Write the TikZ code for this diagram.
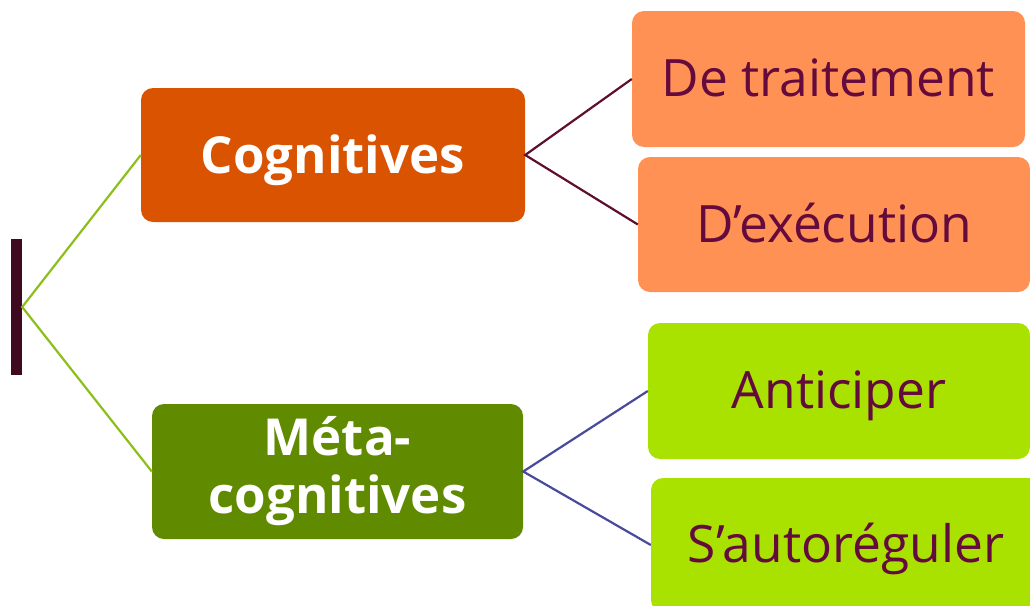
\documentclass[tikz,border=0pt]{standalone}
\usepackage{fontspec}
\setmainfont{Open Sans}
\definecolor{barc}{HTML}{3F0A20}
\definecolor{cogc}{HTML}{DA5300}
\definecolor{metac}{HTML}{608A00}
\definecolor{lorange}{HTML}{FF9155}
\definecolor{lgreen}{HTML}{A9E200}
\definecolor{txtc}{HTML}{650A3C}
\definecolor{lineg}{HTML}{8DBF1B}
\definecolor{linem}{HTML}{5E0E2E}
\definecolor{lineb}{HTML}{4A4A9C}
\tikzset{
  mainbox/.style={rectangle, rounded corners=12pt, inner sep=0pt, text=white, font=\fontsize{51}{58}\selectfont\bfseries, align=center},
  subbox/.style={rectangle, rounded corners=12pt, inner sep=0pt, text=txtc, font=\fontsize{51.5}{60}\selectfont, text height=40pt, text depth=5pt},
  conn/.style={line width=2.2pt}
}
\begin{document}
\begin{tikzpicture}[x=1pt,y=-1pt]
\useasboundingbox (0,0) rectangle (1030,605);
\clip (0,0) rectangle (1030,605);
\node[rectangle, fill=barc, minimum width=11pt, minimum height=136pt, inner sep=0pt] (bar) at (16.5,307) {};
\node[mainbox, fill=cogc, minimum width=384pt, minimum height=134pt, text height=40pt, text depth=4pt] (cog) at (333,155) {Cognitives};
\node[mainbox, fill=metac, minimum width=371pt, minimum height=135pt, text height=98pt, text depth=15pt] (meta) at (337.5,471.5) {Méta-\\cognitives};
\node[subbox, fill=lorange, minimum width=393pt, minimum height=136pt] (trait) at (828.5,79) {De traitement};
\node[subbox, fill=lorange, minimum width=392pt, minimum height=135pt] (exec) at (834,224.5) {D’exécution};
\node[subbox, fill=lgreen, minimum width=382pt, minimum height=136pt] (antic) at (839,391) {Anticiper};
\node[subbox, fill=lgreen, minimum width=390pt, minimum height=134pt] (auto) at (846,545) {S’autoréguler};
\draw[conn, lineg] (cog.west) -- (bar.east) -- (meta.west);
\draw[conn, linem] (trait.west) -- (cog.east) -- (exec.west);
\draw[conn, lineb] (antic.west) -- (meta.east) -- (auto.west);
\end{tikzpicture}
\end{document}
